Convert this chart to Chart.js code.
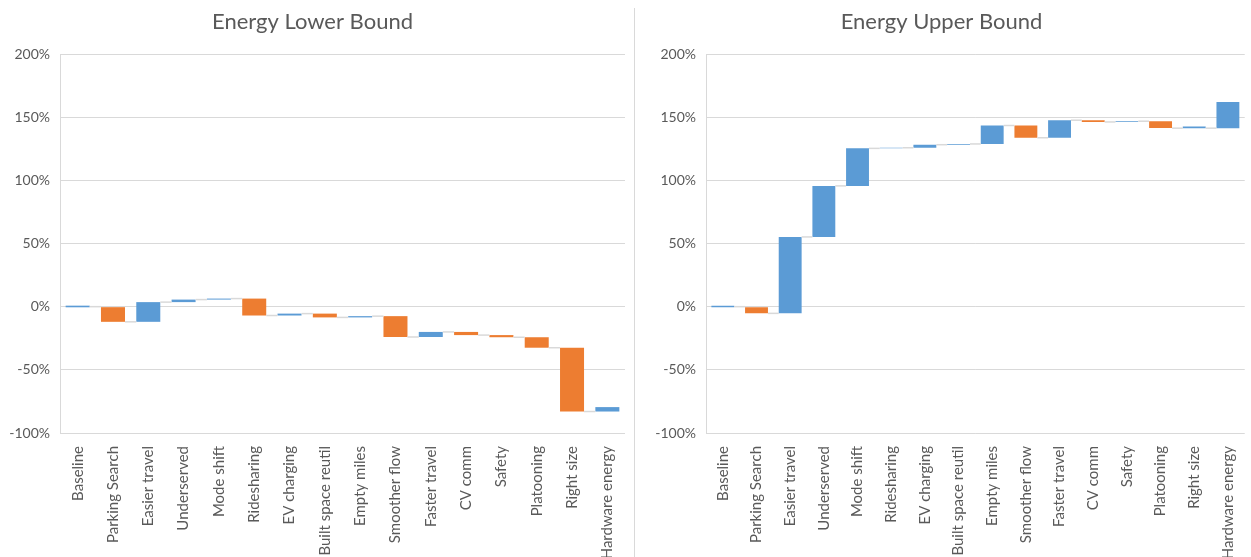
<!DOCTYPE html>
<html>
<head>
<meta charset="utf-8">
<script src="https://cdn.jsdelivr.net/npm/chart.js@4.4.1/dist/chart.umd.min.js"></script>
<style>
  html, body { margin: 0; padding: 0; background: #ffffff; }
  body { width: 1251px; height: 557px; position: relative; overflow: hidden; }
  .box { position: absolute; top: 0; height: 557px; }
  #leftBox { left: 0; width: 634px; }
  #rightBox { left: 635px; width: 616px; }
  #divider { position: absolute; left: 634px; top: 8px; width: 1px; height: 549px; background: #D9D9D9; }
</style>
</head>
<body>
<div class="box" id="leftBox"><canvas id="cLeft"></canvas></div>
<div id="divider"></div>
<div class="box" id="rightBox"><canvas id="cRight"></canvas></div>
<script>
const categories = ["Baseline", "Parking Search", "Easier travel", "Underserved", "Mode shift", "Ridesharing", "EV charging", "Built space reutil", "Empty miles", "Smoother flow", "Faster travel", "CV comm", "Safety", "Platooning", "Right size", "Hardware energy"];

// Energy Lower Bound: start / end of each floating bar (%)
const lowerStart = [-0.5, 0, -12, 3.6, 5.6, 6.4, -7, -5.5, -8.5, -7.5, -24, -20, -22.5, -24.2, -32.5, -83];
const lowerEnd   = [0.8, -12, 3.6, 5.6, 6.4, -7, -5.5, -8.5, -7.5, -24, -20, -22.5, -24.2, -32.5, -83, -79.5];
const lowerKind  = ["up", "down", "up", "up", "up", "down", "up", "down", "up", "down", "up", "down", "down", "down", "down", "up"];

// Energy Upper Bound: start / end of each floating bar (%)
const upperStart = [-0.5, 0, -5.3, 55.2, 95.6, 125.3, 125.8, 128.2, 128.8, 143.4, 133.7, 147.6, 146.2, 146.8, 141.3, 141.3];
const upperEnd   = [0.8, -5.3, 55.2, 95.6, 125.3, 125.8, 128.2, 128.8, 143.4, 133.7, 147.6, 146.2, 146.8, 141.5, 142.6, 162];
const upperKind  = ["up", "down", "up", "up", "up", "up", "up", "up", "up", "down", "up", "down", "up", "down", "up", "up"];

const yTicks = [-100, -50, 0, 50, 100, 150, 200];

const BLUE = "#5B9BD5", ORANGE = "#ED7D31", GRID = "#D9D9D9", TEXT = "#595959";
const FONT = "Lato, 'Open Sans', sans-serif";

const connectorPlugin = {
  id: "connectors",
  afterDatasetsDraw(chart) {
    const meta = chart.getDatasetMeta(0);
    const ys = chart.scales.y;
    const starts = chart.data.datasets[0].data.map(d => d[0]);
    const ctx = chart.ctx;
    ctx.save();
    ctx.strokeStyle = GRID;
    ctx.lineWidth = 1.5;
    for (let i = 0; i < meta.data.length - 1; i++) {
      const a = meta.data[i], b = meta.data[i + 1];
      const y = ys.getPixelForValue(starts[i + 1]);
      ctx.beginPath();
      ctx.moveTo(a.x + a.width / 2, y);
      ctx.lineTo(b.x - b.width / 2, y);
      ctx.stroke();
    }
    ctx.restore();
  }
};

function makeChart(id, title, starts, ends, kinds, yWidth, padRight) {
  const data = starts.map((s, i) => [s, ends[i]]);
  const colors = kinds.map(k => k === "up" ? BLUE : ORANGE);
  return new Chart(document.getElementById(id), {
    type: "bar",
    data: {
      labels: categories,
      datasets: [{
        data: data,
        backgroundColor: colors,
        borderWidth: 0,
        borderSkipped: false,
        categoryPercentage: 1.0,
        barPercentage: 0.68
      }]
    },
    options: {
      responsive: true,
      maintainAspectRatio: false,
      animation: false,
      layout: { padding: { left: 0, right: padRight, top: 0, bottom: 0 } },
      plugins: {
        legend: { display: false },
        tooltip: { enabled: false },
        title: {
          display: true,
          text: title,
          color: TEXT,
          font: { family: FONT, size: 22, weight: "normal", lineHeight: 1.2 },
          padding: { top: 9, bottom: 18.6 }
        }
      },
      scales: {
        x: {
          grid: { display: false },
          border: { display: false },
          ticks: {
            color: TEXT,
            font: { family: FONT, size: 15 },
            minRotation: 90,
            maxRotation: 90,
            autoSkip: false,
            padding: 5
          },
          afterFit(scale) { scale.height = 124; }
        },
        y: {
          min: -100,
          max: 200,
          afterBuildTicks(scale) { scale.ticks = yTicks.map(v => ({ value: v })); },
          grid: { color: GRID, lineWidth: 1, drawTicks: false },
          border: { display: true, color: GRID },
          ticks: {
            color: TEXT,
            font: { family: FONT, size: 14 },
            padding: 10,
            callback: v => v + "%"
          },
          afterFit(scale) { scale.width = yWidth; }
        }
      }
    },
    plugins: [connectorPlugin]
  });
}

makeChart("cLeft", "Energy Lower Bound", lowerStart, lowerEnd, lowerKind, 60, 9);
makeChart("cRight", "Energy Upper Bound", upperStart, upperEnd, upperKind, 71, 3);
</script>
</body>
</html>
